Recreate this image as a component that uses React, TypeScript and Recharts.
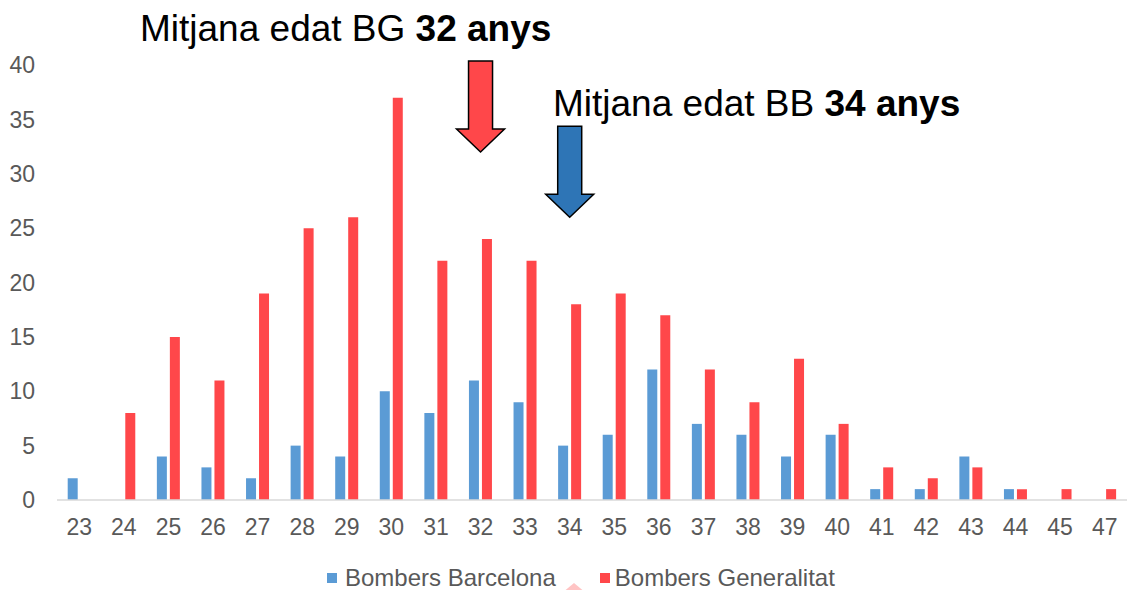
import React from 'react';
import { BarChart, Bar, XAxis, YAxis, Legend, ReferenceDot } from 'recharts';

const ages = ['23', '24', '25', '26', '27', '28', '29', '30', '31', '32', '33', '34', '35', '36', '37', '38', '39', '40', '41', '42', '43', '44', '45', '47'];
const barcelona = [2, 0, 4, 3, 2, 5, 4, 10, 8, 11, 9, 5, 6, 12, 7, 6, 4, 6, 1, 1, 4, 1, 0, 0];
const generalitat = [0, 8, 15, 11, 19, 25, 26, 37, 22, 24, 22, 18, 19, 17, 12, 9, 13, 7, 3, 2, 3, 1, 1, 1];
const yTicks = [0, 5, 10, 15, 20, 25, 30, 35, 40];

const seriesNames = { barcelona: 'Bombers Barcelona', generalitat: 'Bombers Generalitat' };
const meanBG = { age: '32', tip: 32 };
const meanBB = { age: '34', tip: 26 };

const BLUE = '#5B9BD5';
const RED = '#FF474A';
const ARROW_BLUE = '#2E75B6';
const FONT = '"Liberation Sans", Arial, sans-serif';

const data = ages.map((age, i) => ({ age, barcelona: barcelona[i], generalitat: generalitat[i] }));

const makeArrow = (fill: string) => (props: any) => {
  const { cx, cy } = props;
  const headH = 23;
  const headHalf = 24;
  const shaftHalf = 12;
  const shaftLen = 68;
  const pts = [
    [cx, cy],
    [cx - headHalf, cy - headH],
    [cx - shaftHalf, cy - headH],
    [cx - shaftHalf, cy - headH - shaftLen],
    [cx + shaftHalf, cy - headH - shaftLen],
    [cx + shaftHalf, cy - headH],
    [cx + headHalf, cy - headH],
  ]
    .map((p) => p.join(','))
    .join(' ');
  return <polygon points={pts} fill={fill} stroke="#000" strokeWidth={1.5} strokeLinejoin="miter" />;
};

const LegendContent = () => (
  <div style={{ height: 30, position: 'relative', fontFamily: FONT, fontSize: 24, color: '#595959' }}>
    <div style={{ position: 'absolute', left: 327, top: 0, display: 'flex', alignItems: 'center', height: 30, whiteSpace: 'nowrap' }}>
      <span style={{ width: 10, height: 10, background: BLUE, display: 'inline-block', marginRight: 8 }} />
      <span>{seriesNames.barcelona}</span>
      <svg width={44} height={30} style={{ display: 'inline-block', alignSelf: 'flex-start' }}>
        <polygon points="6,30 18,20 30,30" fill="#FFC4C4" />
      </svg>
      <span style={{ width: 10, height: 10, background: RED, display: 'inline-block', marginRight: 5 }} />
      <span>{seriesNames.generalitat}</span>
    </div>
  </div>
);

export default function App() {
  return (
    <div style={{ position: 'absolute', left: 0, top: 0, width: 1129, height: 590, fontFamily: FONT, background: '#fff', overflow: 'hidden' }}>
      <BarChart
        width={1129}
        height={590}
        data={data}
        margin={{ top: 65, right: 2, left: 0, bottom: 30 }}
        barGap={3}
        barCategoryGap="24%"
      >
        <XAxis
          dataKey="age"
          interval={0}
          tickLine={false}
          axisLine={{ stroke: '#D9D9D9', strokeWidth: 1.5 }}
          tickMargin={13}
          tick={{ fill: '#595959', fontSize: 23 }}
          height={30}
        />
        <YAxis
          width={57}
          domain={[0, 40]}
          ticks={yTicks}
          axisLine={false}
          tickLine={false}
          tickMargin={16}
          tick={{ fill: '#595959', fontSize: 23 }}
        />
        <Legend
          verticalAlign="bottom"
          content={<LegendContent />}
          wrapperStyle={{ top: 563, bottom: 'auto', left: 0, width: 1129, height: 30 }}
        />
        <Bar dataKey="barcelona" name={seriesNames.barcelona} fill={BLUE} isAnimationActive={false} />
        <Bar dataKey="generalitat" name={seriesNames.generalitat} fill={RED} isAnimationActive={false} />
        <ReferenceDot x={meanBG.age} y={meanBG.tip} ifOverflow="visible" shape={makeArrow(RED)} />
        <ReferenceDot x={meanBB.age} y={meanBB.tip} ifOverflow="visible" shape={makeArrow(ARROW_BLUE)} />
      </BarChart>
      <svg width={1129} height={130} style={{ position: 'absolute', left: 0, top: 0, pointerEvents: 'none' }}>
        <text x={140} y={41} fontSize={37} fill="#000" fontFamily={FONT}>
          Mitjana edat BG <tspan fontWeight="bold">32 anys</tspan>
        </text>
        <text x={553} y={116} fontSize={37} fill="#000" fontFamily={FONT}>
          Mitjana edat BB <tspan fontWeight="bold">34 anys</tspan>
        </text>
      </svg>
    </div>
  );
}
